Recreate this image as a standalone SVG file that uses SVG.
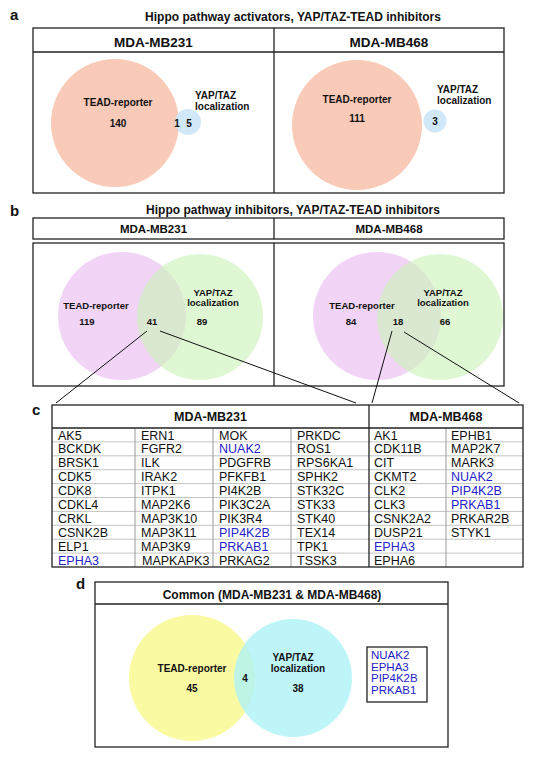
<svg xmlns="http://www.w3.org/2000/svg" width="550" height="757" viewBox="0 0 550 757">
<style>
text{font-family:"Liberation Sans",Arial,sans-serif;fill:#111}
.lbl{font-size:15px;font-weight:bold}
.ttl{font-size:12px;font-weight:bold;text-anchor:middle}
.hdr{font-size:12.5px;font-weight:bold;text-anchor:middle}
.ha{font-size:13.5px;font-weight:bold;text-anchor:middle}
.hb{font-size:11.5px;font-weight:bold;text-anchor:middle}
.va{font-size:10px;font-weight:bold}
.vb{font-size:9.5px;font-weight:bold}
.m{text-anchor:middle}
.box{fill:none;stroke:#222;stroke-width:1.3}
.cell{font-size:12.5px}
.blue{fill:#2323c8}
.gene{font-size:11.5px;fill:#2323c8}
.rl{stroke:#c4c4c4;stroke-width:1}
.cl{stroke:#9a9a9a;stroke-width:1}
.conn{stroke:#111;stroke-width:1;fill:none}
</style>
<rect width="550" height="757" fill="#fff"/>

<!-- Panel a -->
<g id="panel-a">
<text class="lbl" x="10" y="20">a</text>
<text class="ttl" x="293" y="21">Hippo pathway activators, YAP/TAZ-TEAD inhibitors</text>
<rect class="box" x="33" y="28" width="471" height="165"/>
<line class="box" x1="33" y1="52" x2="504" y2="52"/>
<line class="box" x1="274" y1="28" x2="274" y2="193"/>
<text class="ha" x="153.5" y="47">MDA-MB231</text>
<text class="ha" x="389" y="47">MDA-MB468</text>
</g>
<g id="venn-a1">
<circle cx="115" cy="123" r="64" fill="#f9cab8"/>
<circle cx="188" cy="122" r="13" fill="#c9e4f7" fill-opacity="0.85"/>
<text class="va m" x="118" y="106">TEAD-reporter</text>
<text class="va m" x="118" y="127">140</text>
<text class="va m" x="177" y="127">1</text>
<text class="va m" x="189" y="127">5</text>
<text class="va" x="195" y="99">YAP/TAZ</text>
<text class="va" x="195" y="110">localization</text>
</g>
<g id="venn-a2">
<circle cx="357" cy="125" r="65" fill="#f9cab8"/>
<circle cx="435" cy="121" r="11.5" fill="#c9e4f7" fill-opacity="0.85"/>
<text class="va m" x="357" y="103">TEAD-reporter</text>
<text class="va m" x="357" y="122">111</text>
<text class="va m" x="435" y="125">3</text>
<text class="va" x="437" y="93">YAP/TAZ</text>
<text class="va" x="437" y="104">localization</text>
</g>

<!-- Panel b -->
<g id="panel-b">
<text class="lbl" x="10" y="216">b</text>
<text class="ttl" x="293" y="214">Hippo pathway inhibitors, YAP/TAZ-TEAD inhibitors</text>
<rect class="box" x="33" y="218" width="471" height="21"/>
<line class="box" x1="274" y1="218" x2="274" y2="239"/>
<text class="hb" x="153.5" y="233">MDA-MB231</text>
<text class="hb" x="389" y="233">MDA-MB468</text>
<rect class="box" x="33" y="243" width="471" height="143"/>
<line class="box" x1="274" y1="243" x2="274" y2="386"/>
</g>
<g id="venn-b1">
<circle cx="122" cy="316" r="64" fill="#f1d4f6"/>
<circle cx="200" cy="317" r="63" fill="#cff3bd" fill-opacity="0.65"/>
<text class="vb m" x="96" y="309">TEAD-reporter</text>
<text class="vb m" x="87" y="325">119</text>
<text class="vb m" x="152" y="325">41</text>
<text class="vb m" x="202" y="325">89</text>
<text class="vb m" x="213" y="296">YAP/TAZ</text>
<text class="vb m" x="213" y="306">localization</text>
</g>
<g id="venn-b2">
<circle cx="377" cy="316" r="64" fill="#f1d4f6"/>
<circle cx="440" cy="317" r="63" fill="#cff3bd" fill-opacity="0.65"/>
<text class="vb m" x="362" y="309">TEAD-reporter</text>
<text class="vb m" x="351" y="325">84</text>
<text class="vb m" x="398" y="325">18</text>
<text class="vb m" x="445" y="325">66</text>
<text class="vb m" x="443" y="296">YAP/TAZ</text>
<text class="vb m" x="443" y="306">localization</text>
</g>

<!-- Connectors -->
<g id="connectors">
<line class="conn" x1="147" y1="331" x2="56" y2="403"/>
<line class="conn" x1="160" y1="331" x2="356" y2="403"/>
<line class="conn" x1="392" y1="331" x2="372" y2="403"/>
<line class="conn" x1="404" y1="332" x2="519" y2="403"/>
</g>

<!-- Panel c -->
<g id="panel-c">
<text class="lbl" x="32" y="415">c</text>
<g id="grid">
<line class="rl" x1="52" y1="441.9" x2="523" y2="441.9"/>
<line class="rl" x1="52" y1="455.8" x2="523" y2="455.8"/>
<line class="rl" x1="52" y1="469.7" x2="523" y2="469.7"/>
<line class="rl" x1="52" y1="483.6" x2="523" y2="483.6"/>
<line class="rl" x1="52" y1="497.5" x2="523" y2="497.5"/>
<line class="rl" x1="52" y1="511.4" x2="523" y2="511.4"/>
<line class="rl" x1="52" y1="525.3" x2="523" y2="525.3"/>
<line class="rl" x1="52" y1="539.2" x2="523" y2="539.2"/>
<line class="rl" x1="52" y1="553.1" x2="523" y2="553.1"/>
<line class="cl" x1="135" y1="428" x2="135" y2="567"/>
<line class="cl" x1="213" y1="428" x2="213" y2="567"/>
<line class="cl" x1="291" y1="428" x2="291" y2="567"/>
<line class="cl" x1="446" y1="428" x2="446" y2="567"/>
</g>
<rect class="box" x="52" y="405" width="471" height="162"/>
<line class="box" x1="52" y1="428" x2="523" y2="428"/>
<line class="box" x1="369" y1="405" x2="369" y2="567"/>
<text class="hdr" x="210.5" y="421">MDA-MB231</text>
<text class="hdr" x="446" y="421">MDA-MB468</text>
<g class="cell">
<text x="58" y="439.5">AK5</text>
<text x="58" y="453.4">BCKDK</text>
<text x="58" y="467.3">BRSK1</text>
<text x="58" y="481.2">CDK5</text>
<text x="58" y="495.1">CDK8</text>
<text x="58" y="509">CDKL4</text>
<text x="58" y="522.9">CRKL</text>
<text x="58" y="536.8">CSNK2B</text>
<text x="58" y="550.7">ELP1</text>
<text class="blue" x="58" y="564.6">EPHA3</text>

<text x="141" y="439.5">ERN1</text>
<text x="141" y="453.4">FGFR2</text>
<text x="141" y="467.3">ILK</text>
<text x="141" y="481.2">IRAK2</text>
<text x="141" y="495.1">ITPK1</text>
<text x="141" y="509">MAP2K6</text>
<text x="141" y="522.9">MAP3K10</text>
<text x="141" y="536.8">MAP3K11</text>
<text x="141" y="550.7">MAP3K9</text>
<text x="142" y="565">MAPKAPK3</text>

<text x="219" y="439.5">MOK</text>
<text class="blue" x="219" y="453.4">NUAK2</text>
<text x="219" y="467.3">PDGFRB</text>
<text x="219" y="481.2">PFKFB1</text>
<text x="219" y="495.1">PI4K2B</text>
<text x="219" y="509">PIK3C2A</text>
<text x="219" y="522.9">PIK3R4</text>
<text class="blue" x="219" y="536.8">PIP4K2B</text>
<text class="blue" x="219" y="550.7">PRKAB1</text>
<text x="219" y="564.6">PRKAG2</text>

<text x="297" y="439.5">PRKDC</text>
<text x="297" y="453.4">ROS1</text>
<text x="297" y="467.3">RPS6KA1</text>
<text x="297" y="481.2">SPHK2</text>
<text x="297" y="495.1">STK32C</text>
<text x="297" y="509">STK33</text>
<text x="297" y="522.9">STK40</text>
<text x="297" y="536.8">TEX14</text>
<text x="297" y="550.7">TPK1</text>
<text x="297" y="564.6">TSSK3</text>

<text x="374" y="439.5">AK1</text>
<text x="374" y="453.4">CDK11B</text>
<text x="374" y="467.3">CIT</text>
<text x="374" y="481.2">CKMT2</text>
<text x="374" y="495.1">CLK2</text>
<text x="374" y="509">CLK3</text>
<text x="374" y="522.9">CSNK2A2</text>
<text x="374" y="536.8">DUSP21</text>
<text class="blue" x="374" y="550.7">EPHA3</text>
<text x="374" y="564.6">EPHA6</text>

<text x="451" y="439.5">EPHB1</text>
<text x="451" y="453.4">MAP2K7</text>
<text x="451" y="467.3">MARK3</text>
<text class="blue" x="451" y="481.2">NUAK2</text>
<text class="blue" x="451" y="495.1">PIP4K2B</text>
<text class="blue" x="451" y="509">PRKAB1</text>
<text x="451" y="522.9">PRKAR2B</text>
<text x="451" y="536.8">STYK1</text>
</g>
</g>

<!-- Panel d -->
<g id="panel-d">
<text class="lbl" x="76" y="589">d</text>
<rect class="box" x="95" y="582" width="353" height="165"/>
<line class="box" x1="95" y1="604" x2="448" y2="604"/>
<text class="ttl" x="272" y="599">Common (MDA-MB231 &amp; MDA-MB468)</text>
</g>
<g id="venn-d">
<circle cx="192" cy="678" r="63" fill="#fafaa2"/>
<circle cx="293" cy="678" r="59" fill="#aef3f7" fill-opacity="0.8"/>
<text class="va m" x="192" y="672">TEAD-reporter</text>
<text class="va m" x="192" y="692">45</text>
<text class="va m" x="245" y="682">4</text>
<text class="va m" x="293" y="661">YAP/TAZ</text>
<text class="va m" x="298" y="672">localization</text>
<text class="va m" x="298" y="692">38</text>
</g>
<g id="genes-d">
<rect class="box" x="367" y="647" width="60" height="55" stroke-width="1.1"/>
<text class="gene" x="371" y="659">NUAK2</text>
<text class="gene" x="371" y="670.5">EPHA3</text>
<text class="gene" x="371" y="682">PIP4K2B</text>
<text class="gene" x="371" y="693.5">PRKAB1</text>
</g>
</svg>
